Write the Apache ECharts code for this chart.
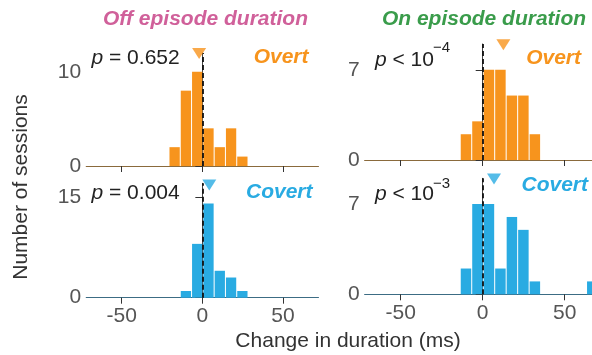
<!DOCTYPE html>
<html><head><meta charset="utf-8">
<script src="https://cdn.jsdelivr.net/npm/echarts@6/dist/echarts.min.js"></script>
<style>html,body{margin:0;padding:0;background:#fff}#c{width:592px;height:355px}</style>
</head><body><div id="c"></div>
<script>
// ---- data ----
const BIN_W = 7;
const offOvertStarts = [-21, -14, -7, 0, 7, 14, 21];
const offOvertCounts = [2, 8, 10, 4, 2, 4, 1];
const offCovertStarts = [-14, -7, 0, 7, 14, 21];
const offCovertCounts = [1, 8, 14, 4, 3, 1];
const onOvertStarts = [-14, -7, 0, 7, 14, 21, 28];
const onOvertCounts = [2, 3, 7, 7, 5, 5, 2];
const onCovertStarts = [-14, -7, 0, 7, 14, 21, 28, 63];
const onCovertCounts = [2, 7, 7, 2, 6, 5, 1, 1];
const medians = [-2, 4.3, 12.6, 6.9];
const yMax = [12, 17, 9, 9];
const yTicks = [[0, 10], [0, 15], [0, 7], [0, 7]];
const xTicks = [-50, 0, 50];
const xRange = [-72, 72];
const pTexts = ['p = 0.652', 'p = 0.004', 'p < 10', 'p < 10'];
const pSup = [null, null, '\u22124', '\u22123'];
const condLabels = ['Overt', 'Covert', 'Overt', 'Covert'];
const titles = ['Off episode duration', 'On episode duration'];

const ORANGE = '#f7941d', BLUE = '#29abe2';
const FONT = 'Liberation Sans';
const colors = [ORANGE, BLUE, ORANGE, BLUE];
const hist = [
  [offOvertStarts, offOvertCounts],
  [offCovertStarts, offCovertCounts],
  [onOvertStarts, onOvertCounts],
  [onCovertStarts, onCovertCounts]
];
const grids = [
  {left: 86.2, top: 53, width: 232.3, height: 113, outerBoundsMode: 'none'},
  {left: 86.2, top: 183.3, width: 232.3, height: 114.4, outerBoundsMode: 'none'},
  {left: 364.6, top: 44, width: 236.2, height: 116, outerBoundsMode: 'none'},
  {left: 364.6, top: 178.3, width: 236.2, height: 116, outerBoundsMode: 'none'}
];
const baseColors = ['#8a6a3c', '#3c6c84', '#8a6a3c', '#3c6c84'];

const xAxes = [], yAxes = [], series = [];
for (let i = 0; i < 4; i++) {
  const bottom = (i === 1 || i === 3);
  xAxes.push({
    type: 'value', gridIndex: i, min: xRange[0], max: xRange[1],
    splitLine: {show: false},
    axisLine: {show: true, onZero: false, lineStyle: {color: baseColors[i], width: 1}},
    axisTick: {show: true, length: 6, customValues: xTicks, lineStyle: {color: '#333'}},
    axisLabel: {show: bottom, customValues: xTicks, fontFamily: FONT, fontSize: 21, color: '#555', margin: 8,
      formatter: v => String(v)}
  });
  yAxes.push({
    type: 'value', gridIndex: i, min: 0, max: yMax[i],
    splitLine: {show: false},
    axisLine: {show: true, lineStyle: {color: '#444', width: 1}},
    axisTick: {show: true, length: 7, customValues: yTicks[i], lineStyle: {color: '#333'}},
    axisLabel: {customValues: yTicks[i], fontFamily: FONT, fontSize: 21, color: '#555', margin: 5}
  });
  const data = hist[i][0].map((s, k) => [s, s + BIN_W, hist[i][1][k]]);
  const col = colors[i];
  series.push({
    type: 'custom', xAxisIndex: i, yAxisIndex: i, data: data,
    encode: {x: [0, 1], y: 2},
    renderItem: function (params, api) {
      const p0 = api.coord([api.value(0), api.value(2)]);
      const p1 = api.coord([api.value(1), 0]);
      return {type: 'rect', shape: {x: p0[0] + 1, y: p0[1], width: p1[0] - p0[0] - 1, height: p1[1] - p0[1]},
        style: {fill: col}};
    },
    silent: true, z: 2
  });
  series.push({
    type: 'scatter', xAxisIndex: i, yAxisIndex: i,
    data: [[medians[i], yMax[i] - (i === 1 ? 0.25 : 0.05)]],
    symbol: 'triangle', symbolRotate: 180, symbolSize: [14, 11],
    itemStyle: {color: col}, clip: false, silent: true, z: 5,
    markLine: {
      silent: true, symbol: 'none', label: {show: false},
      lineStyle: {color: '#111', type: [5, 3], width: 1.8},
      data: [[{coord: [0, 0]}, {coord: [0, yMax[i]]}]],
      z: 4
    }
  });
}

const graphic = [];
const titleX = [205.5, 484];
titles.forEach((t, k) => graphic.push({type: 'text', x: titleX[k], y: 19,
  style: {text: t, align: 'center', verticalAlign: 'middle',
    font: 'italic bold 21px "' + FONT + '"', fill: k === 0 ? '#d0609a' : '#3a9c4b'}}));

const pPos = [[91.5, 58], [91.5, 193.5], [375, 60], [375, 194]];
const supPos = [null, null, [433, 47.5], [433, 184]];
const condPos = [[308.5, 57.5], [312.5, 192.5], [581, 58.5], [588, 185]];
for (let i = 0; i < 4; i++) {
  const rest = pTexts[i].slice(1);
  graphic.push({type: 'text', x: pPos[i][0], y: pPos[i][1],
    style: {text: '{i|p}{n|' + rest + '}', align: 'left', verticalAlign: 'middle',
      rich: {
        i: {font: 'italic 21px "' + FONT + '"', fill: '#222'},
        n: {font: '21px "' + FONT + '"', fill: '#222'}
      }}});
  if (pSup[i]) {
    graphic.push({type: 'text', x: supPos[i][0], y: supPos[i][1],
      style: {text: pSup[i], align: 'left', verticalAlign: 'middle', font: '15px "' + FONT + '"', fill: '#222'}});
  }
  graphic.push({type: 'text', x: condPos[i][0], y: condPos[i][1],
    style: {text: condLabels[i], align: 'right', verticalAlign: 'middle',
      font: 'italic bold 21px "' + FONT + '"', fill: colors[i]}});
}
graphic.push({type: 'text', x: 21, y: 187, rotation: Math.PI / 2,
  style: {text: 'Number of sessions', align: 'center', verticalAlign: 'middle', font: '21px "' + FONT + '"', fill: '#333'}});
graphic.push({type: 'text', x: 348, y: 341,
  style: {text: 'Change in duration (ms)', align: 'center', verticalAlign: 'middle', font: '21px "' + FONT + '"', fill: '#333'}});

const chart = echarts.init(document.getElementById('c'), null, {renderer: 'canvas'});
chart.setOption({
  animation: false,
  backgroundColor: '#fff',
  textStyle: {fontFamily: FONT},
  grid: grids,
  xAxis: xAxes,
  yAxis: yAxes,
  series: series,
  graphic: graphic
});
</script></body></html>
